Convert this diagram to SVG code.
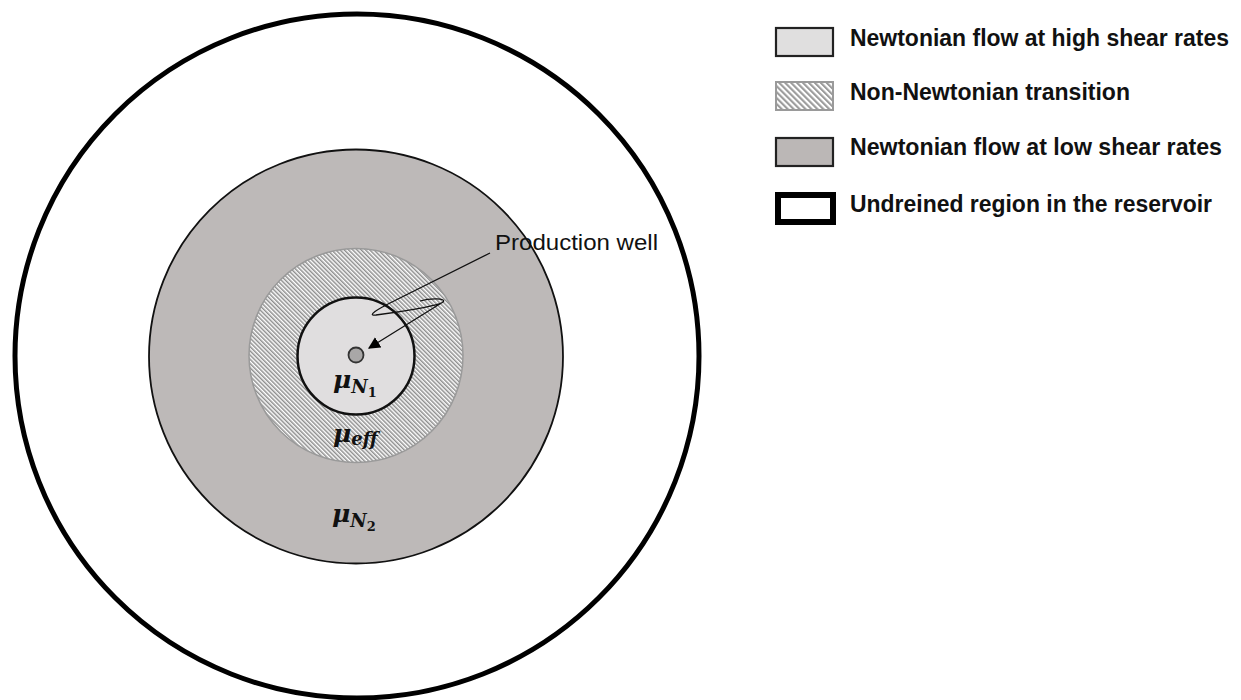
<svg xmlns="http://www.w3.org/2000/svg" width="1241" height="700" viewBox="0 0 1241 700">
<defs>
<pattern id="hatch" patternUnits="userSpaceOnUse" width="3" height="3" patternTransform="rotate(-45)">
<rect width="3" height="3" fill="#ffffff"/>
<rect width="1.5" height="3" fill="#8e8e8e"/>
</pattern>
<pattern id="hatchL" patternUnits="userSpaceOnUse" width="4.2" height="4.2" patternTransform="rotate(-45)">
<rect width="4.2" height="4.2" fill="#ffffff"/>
<rect width="2.1" height="4.2" fill="#9a9a9a"/>
</pattern>
<marker id="arr" viewBox="0 0 10 10" refX="9" refY="5" markerWidth="12" markerHeight="12" markerUnits="userSpaceOnUse" orient="auto">
<path d="M0,0 L10,5 L0,10 Z" fill="#000"/>
</marker>
<style>
.lg{font-family:"Liberation Sans",Arial,sans-serif;font-weight:bold;font-size:23px;fill:#111}
.mu{font-family:"DejaVu Serif","Liberation Serif",serif;font-weight:bold;font-style:italic;font-size:25px;fill:#111}
.sb{font-size:18px}
.sb2{font-size:13px;font-style:normal}
.pw{font-family:"Liberation Sans",Arial,sans-serif;font-size:22px;fill:#111}
</style>
</defs>
<rect width="1241" height="700" fill="#ffffff"/>
<g id="undrained">
<circle cx="357" cy="356" r="342" fill="#ffffff" stroke="#000" stroke-width="5"/>
</g>
<g id="low-shear">
<circle cx="356" cy="356.5" r="207" fill="#bdb9b8" stroke="#111" stroke-width="1.8"/>
</g>
<g id="transition">
<circle cx="356" cy="355.5" r="107" fill="url(#hatch)" stroke="#9a9a9a" stroke-width="1.5"/>
</g>
<g id="high-shear">
<circle cx="356" cy="356" r="58.5" fill="#e0dedf" stroke="#111" stroke-width="2.5"/>
</g>
<g id="well">
<circle cx="356" cy="355" r="7.5" fill="#a9a7a7" stroke="#333" stroke-width="1.8"/>
</g>
<g id="labels">
<text class="mu" x="333" y="388">μ<tspan class="sb" dy="5">N</tspan><tspan class="sb2" dy="4">1</tspan></text>
<text class="mu" x="333" y="442">μ<tspan class="sb" dy="3">eff</tspan></text>
<text class="mu" x="332" y="522">μ<tspan class="sb" dy="5">N</tspan><tspan class="sb2" dy="4">2</tspan></text>
<text class="pw" x="495" y="250" textLength="163" lengthAdjust="spacingAndGlyphs">Production well</text>
</g>
<g id="connectors">
<path d="M490,253 L392,302 C378,309 366,316 376,315 C400,312 438,306 443,302 C447,298 430,298 420,301 M443,302 L369,348" fill="none" stroke="#111" stroke-width="1.3" marker-end="url(#arr)"/>
</g>
<g id="legend">
<g id="legend-high">
<rect x="776" y="28" width="57" height="28" fill="#e0dfdf" stroke="#222" stroke-width="2.2"/>
<text class="lg" x="850" y="46" textLength="379" lengthAdjust="spacingAndGlyphs">Newtonian flow at high shear rates</text>
</g>
<g id="legend-transition">
<rect x="776" y="82" width="57" height="28" fill="url(#hatchL)" stroke="#9a9a9a" stroke-width="2"/>
<text class="lg" x="850" y="100" textLength="280" lengthAdjust="spacingAndGlyphs">Non-Newtonian transition</text>
</g>
<g id="legend-low">
<rect x="776" y="138" width="57" height="28" fill="#bbb7b6" stroke="#222" stroke-width="2.2"/>
<text class="lg" x="850" y="155" textLength="372" lengthAdjust="spacingAndGlyphs">Newtonian flow at low shear rates</text>
</g>
<g id="legend-undrained">
<rect x="778" y="195" width="55" height="27" fill="#ffffff" stroke="#000" stroke-width="6"/>
<text class="lg" x="850" y="212" textLength="362" lengthAdjust="spacingAndGlyphs">Undreined region in the reservoir</text>
</g>
</g>
</svg>
